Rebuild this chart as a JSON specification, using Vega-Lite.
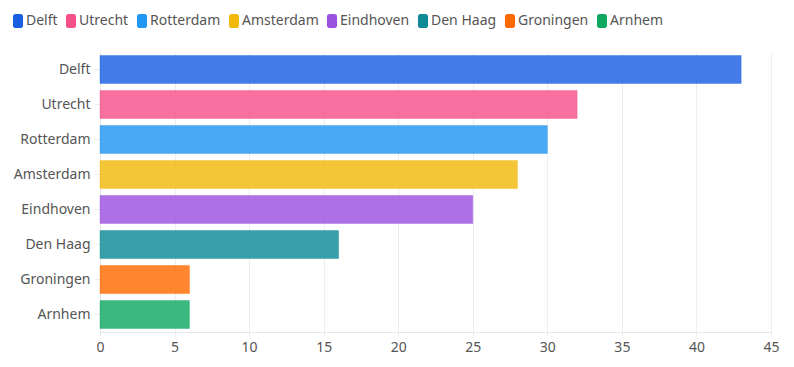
{
  "$schema": "https://vega.github.io/schema/vega-lite/v6.json",
  "width": 671,
  "height": 280,
  "autosize": {"type": "none"},
  "padding": {"left": 100, "top": 52, "right": 23, "bottom": 35},
  "background": "white",
  "config": {
    "font": "Noto Sans",
    "view": {"stroke": null}
  },
  "data": {
    "values": [
      {"city": "Delft", "value": 43},
      {"city": "Utrecht", "value": 32},
      {"city": "Rotterdam", "value": 30},
      {"city": "Amsterdam", "value": 28},
      {"city": "Eindhoven", "value": 25},
      {"city": "Den Haag", "value": 16},
      {"city": "Groningen", "value": 6},
      {"city": "Arnhem", "value": 6}
    ]
  },
  "mark": {"type": "bar", "fillOpacity": 0.82, "strokeWidth": 1, "strokeOpacity": 0.35},
  "encoding": {
    "y": {
      "field": "city",
      "type": "nominal",
      "sort": ["Delft", "Utrecht", "Rotterdam", "Amsterdam", "Eindhoven", "Den Haag", "Groningen", "Arnhem"],
      "scale": {"paddingInner": 0.2, "paddingOuter": 0.1},
      "axis": {
        "title": null,
        "labelFontSize": 14,
        "labelColor": "#555555",
        "labelPadding": 4,
        "tickColor": "#eeeeee",
        "tickSize": 6,
        "domainColor": "#e8e8e8",
        "grid": false
      }
    },
    "x": {
      "field": "value",
      "type": "quantitative",
      "scale": {"domain": [0, 45], "nice": false},
      "axis": {
        "title": null,
        "values": [0, 5, 10, 15, 20, 25, 30, 35, 40, 45],
        "labelFontSize": 14,
        "labelColor": "#555555",
        "labelPadding": 4,
        "labelFlush": false,
        "tickColor": "#eeeeee",
        "tickSize": 4,
        "domainColor": "#e8e8e8",
        "gridColor": "#eeeeee",
        "grid": true
      }
    },
    "color": {
      "field": "city",
      "type": "nominal",
      "sort": ["Delft", "Utrecht", "Rotterdam", "Amsterdam", "Eindhoven", "Den Haag", "Groningen", "Arnhem"],
      "scale": {
        "domain": ["Delft", "Utrecht", "Rotterdam", "Amsterdam", "Eindhoven", "Den Haag", "Groningen", "Arnhem"],
        "range": ["#1a5fe0", "#f5508a", "#2196f3", "#f0b90b", "#9b51e0", "#0e8a96", "#ff6a00", "#10a860"]
      },
      "legend": {
        "title": null,
        "orient": "none",
        "legendX": -89,
        "legendY": -38,
        "direction": "horizontal",
        "columns": 8,
        "columnPadding": 6,
        "labelFontSize": 14,
        "labelColor": "#555555",
        "labelOffset": 1,
        "symbolType": "M-0.72,-0.6 Q-0.72,-1 -0.32,-1 L0.32,-1 Q0.72,-1 0.72,-0.6 L0.72,0.6 Q0.72,1 0.32,1 L-0.32,1 Q-0.72,1 -0.72,0.6 Z",
        "symbolSize": 196,
        "symbolStrokeWidth": 0,
        "symbolOpacity": 1
      }
    },
    "stroke": {
      "field": "city",
      "type": "nominal",
      "scale": {
        "domain": ["Delft", "Utrecht", "Rotterdam", "Amsterdam", "Eindhoven", "Den Haag", "Groningen", "Arnhem"],
        "range": ["#1a5fe0", "#f5508a", "#2196f3", "#f0b90b", "#9b51e0", "#0e8a96", "#ff6a00", "#10a860"]
      },
      "legend": null
    }
  }
}
